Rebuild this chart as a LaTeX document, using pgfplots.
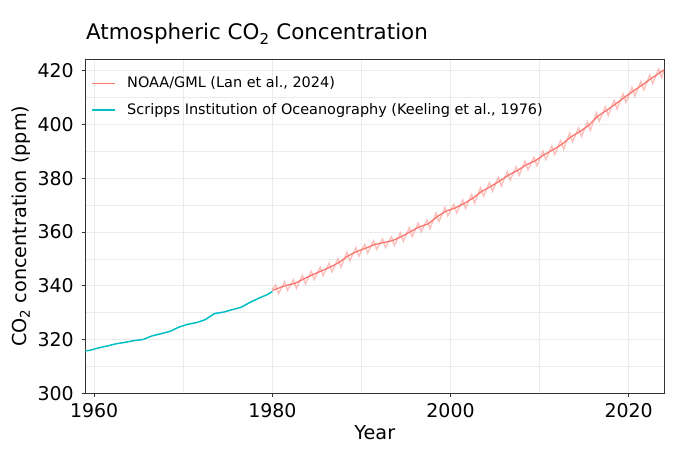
\documentclass[border=0pt]{standalone}
\usepackage{fontspec}
\setmainfont{DejaVu Sans}
\usepackage{pgfplots}
\pgfplotsset{compat=1.18}
\definecolor{ggred}{HTML}{F8766D}
\definecolor{ggcyan}{HTML}{00BFC4}
\definecolor{gridc}{HTML}{EBEBEB}
\definecolor{framec}{HTML}{333333}
\begin{document}
\begin{tikzpicture}
\begin{axis}[
  name=ax,
  scale only axis, width=579bp, height=334bp,
  xmin=1959, xmax=2024, ymin=300, ymax=424.3,
  xtick={1960,1980,2000,2020}, minor xtick={1970,1990,2010},
  ytick={300,320,...,420}, minor ytick={310,330,...,410},
  grid=both,
  major grid style={color=gridc, line width=1.0bp},
  minor grid style={color=gridc, line width=0.6bp},
  axis line style={color=framec, line width=1.1bp},
  tick pos=left, tick align=outside,
  major tick length=3.7bp, minor tick length=0pt,
  every tick/.style={color=framec, line width=1.0bp},
  /pgf/number format/assume math mode=true,
  /pgf/number format/set thousands separator={},
  ticklabel style={font=\fontsize{19}{22}\selectfont, text=black},
  yticklabel style={inner sep=0pt, anchor=east, xshift=-7.6bp},
  xticklabel style={inner sep=0pt, anchor=north, yshift=-6bp},
  legend style={at={(0,1)}, anchor=north west, draw=none, fill=none,
    font=\fontsize{14.5}{17}\selectfont, row sep=10.5bp, inner xsep=6bp, inner ysep=15.5bp,
    cells={anchor=west}},
  legend cell align=left,
  legend image code/.code={\draw[#1] (0bp,0bp) -- (23bp,0bp);\path[draw=none,fill=none] (0bp,0bp) -- (33bp,0bp);},
]
\addplot[ggred, line width=1.3bp] coordinates {
(1980.0,338.3)
(1980.5,338.91)(1981.5,340.11)(1982.5,340.86)(1983.5,342.53)(1984.5,344.07)
(1985.5,345.54)(1986.5,346.97)(1987.5,348.68)(1988.5,351.16)(1989.5,352.78)
(1990.5,354.05)(1991.5,355.39)(1992.5,356.09)(1993.5,356.83)(1994.5,358.33)
(1995.5,360.17)(1996.5,361.93)(1997.5,363.05)(1998.5,365.70)(1999.5,367.80)
(2000.5,368.96)(2001.5,370.57)(2002.5,372.58)(2003.5,375.14)(2004.5,376.95)
(2005.5,378.98)(2006.5,381.15)(2007.5,382.90)(2008.5,385.02)(2009.5,386.50)
(2010.5,388.76)(2011.5,390.63)(2012.5,392.65)(2013.5,395.40)(2014.5,397.34)
(2015.5,399.65)(2016.5,403.07)(2017.5,405.22)(2018.5,407.61)(2019.5,410.07)
(2020.5,412.44)(2021.5,414.70)(2022.5,417.07)(2023.5,419.31)(2024.0,420.4)
};
\addlegendentry{NOAA/GML (Lan et al., 2024)}
\addplot[ggcyan, line width=1.5bp] coordinates {
(1958.9,315.8)
(1959.5,315.98)(1960.5,316.91)(1961.5,317.64)(1962.5,318.45)(1963.5,318.99)
(1964.5,319.62)(1965.5,320.04)(1966.5,321.37)(1967.5,322.18)(1968.5,323.05)
(1969.5,324.62)(1970.5,325.68)(1971.5,326.32)(1972.5,327.46)(1973.5,329.68)
(1974.5,330.19)(1975.5,331.13)(1976.5,332.03)(1977.5,333.84)(1978.5,335.41)
(1979.5,336.84)(1980.0,337.9)
};
\addlegendentry{Scripps Institution of Oceanography (Keeling et al., 1976)}
\addplot[ggred, opacity=0.45, line width=1.4bp] coordinates {
(1980.04,338.8)
(1980.37,340.31)(1980.70,337.11)
(1981.37,341.51)(1981.70,338.31)
(1982.37,342.26)(1982.70,339.06)
(1983.37,343.93)(1983.70,340.73)
(1984.37,345.47)(1984.70,342.27)
(1985.37,346.94)(1985.70,343.74)
(1986.37,348.37)(1986.70,345.17)
(1987.37,350.08)(1987.70,346.88)
(1988.37,352.56)(1988.70,349.36)
(1989.37,354.18)(1989.70,350.98)
(1990.37,355.45)(1990.70,352.25)
(1991.37,356.79)(1991.70,353.59)
(1992.37,357.49)(1992.70,354.29)
(1993.37,358.23)(1993.70,355.03)
(1994.37,359.73)(1994.70,356.53)
(1995.37,361.57)(1995.70,358.37)
(1996.37,363.33)(1996.70,360.13)
(1997.37,364.45)(1997.70,361.25)
(1998.37,367.10)(1998.70,363.90)
(1999.37,369.20)(1999.70,366.00)
(2000.37,370.36)(2000.70,367.16)
(2001.37,371.97)(2001.70,368.77)
(2002.37,373.98)(2002.70,370.78)
(2003.37,376.54)(2003.70,373.34)
(2004.37,378.35)(2004.70,375.15)
(2005.37,380.38)(2005.70,377.18)
(2006.37,382.55)(2006.70,379.35)
(2007.37,384.30)(2007.70,381.10)
(2008.37,386.42)(2008.70,383.22)
(2009.37,387.90)(2009.70,384.70)
(2010.37,390.16)(2010.70,386.96)
(2011.37,392.03)(2011.70,388.83)
(2012.37,394.05)(2012.70,390.85)
(2013.37,396.80)(2013.70,393.60)
(2014.37,398.74)(2014.70,395.54)
(2015.37,401.05)(2015.70,397.85)
(2016.37,404.47)(2016.70,401.27)
(2017.37,406.62)(2017.70,403.42)
(2018.37,409.01)(2018.70,405.81)
(2019.37,411.47)(2019.70,408.27)
(2020.37,413.84)(2020.70,410.64)
(2021.37,416.10)(2021.70,412.90)
(2022.37,418.47)(2022.70,415.27)
(2023.37,420.71)(2023.70,417.51)
(2023.96,420.2)
};
\end{axis}
\node[anchor=base west, font=\fontsize{21.5}{25}\selectfont, inner sep=0pt] at ([yshift=19.3bp, xshift=0.7bp]ax.north west) {Atmospheric CO\textsubscript{2} Concentration};
\node[anchor=base, font=\fontsize{19.3}{22}\selectfont, inner sep=0pt] at ([yshift=-45.7bp]ax.south) {Year};
\node[anchor=base, rotate=90, font=\fontsize{19.3}{22}\selectfont, inner sep=0pt] at ([xshift=-58.6bp]ax.west) {CO\textsubscript{2} concentration (ppm)};
\pgfresetboundingbox
\path[use as bounding box] ([xshift=-85.3bp,yshift=-56.7bp]ax.south west) rectangle ++(700bp,450bp);
\end{tikzpicture}
\end{document}
